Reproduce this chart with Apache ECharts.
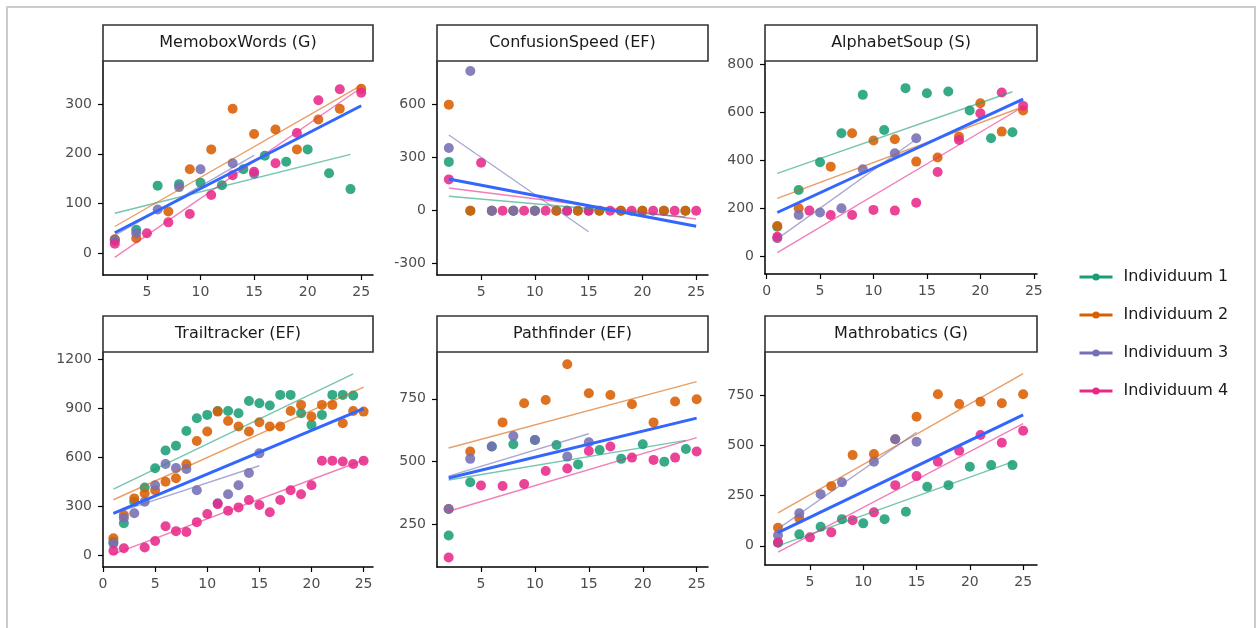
<!DOCTYPE html>
<html>
<head>
<meta charset="utf-8">
<style>html,body{margin:0;padding:0;background:#fff}#chart{width:1259px;height:628px}</style>
<script src="https://cdn.jsdelivr.net/npm/echarts@6/dist/echarts.min.js"></script>
</head>
<body>
<div id="chart"></div>
<script>
// facet data: [measurement, score] per individual
var individuals = ['Individuum 1', 'Individuum 2', 'Individuum 3', 'Individuum 4'];
var panelTitles = ['MemoboxWords (G)', 'ConfusionSpeed (EF)', 'AlphabetSoup (S)', 'Trailtracker (EF)', 'Pathfinder (EF)', 'Mathrobatics (G)'];

// MemoboxWords (G)
var memo1 = [[2,27],[4,47],[6,136],[8,139],[10,142],[12,137],[14,169],[16,196],[18,184],[20,209],[22,161],[24,129]];
var memo2 = [[2,28],[4,30],[7,84],[9,169],[11,209],[13,291],[15,240],[17,249],[19,209],[21,269],[23,291],[25,331]];
var memo3 = [[2,25],[4,40],[6,88],[8,133],[10,169],[13,181],[15,160]];
var memo4 = [[2,19],[5,40],[7,62],[9,79],[11,117],[13,157],[15,164],[17,181],[19,242],[21,308],[23,330],[25,323]];

// ConfusionSpeed (EF)
var conf1 = [[2,276],[4,0],[6,0],[8,0],[10,0],[12,0],[14,0],[16,0],[18,0],[20,0],[22,0],[24,0]];
var conf2 = [[2,600],[4,0],[6,0],[8,0],[10,0],[12,0],[14,0],[16,0],[18,0],[20,0],[22,0],[24,0]];
var conf3 = [[2,355],[4,790],[6,0],[8,0],[10,0],[13,0],[15,0]];
var conf4 = [[2,177],[5,271],[7,0],[9,0],[11,0],[13,0],[15,0],[17,0],[19,0],[21,0],[23,0],[25,0]];

// AlphabetSoup (S)
var alpha1 = [[1,122],[3,275],[5,390],[7,511],[9,671],[11,525],[13,699],[15,678],[17,685],[19,606],[21,490],[23,515]];
var alpha2 = [[1,125],[3,199],[6,372],[8,511],[10,481],[12,486],[14,393],[16,410],[18,497],[20,636],[22,518],[24,606]];
var alpha3 = [[1,74],[3,171],[5,181],[7,199],[9,361],[12,428],[14,490]];
var alpha4 = [[1,80],[4,189],[6,171],[8,171],[10,192],[12,189],[14,222],[16,350],[18,483],[20,594],[22,681],[24,625]];

// Trailtracker (EF)
var trail1 = [[1,85],[2,198],[3,330],[4,416],[5,534],[6,642],[7,672],[8,762],[9,839],[10,860],[11,884],[12,884],[13,870],[14,945],[15,931],[16,917],[17,982],[18,982],[19,870],[20,799],[21,860],[22,982],[23,982],[24,978]];
var trail2 = [[1,106],[2,249],[3,350],[4,380],[5,400],[6,452],[7,473],[8,558],[9,701],[10,758],[11,880],[12,823],[13,789],[14,758],[15,815],[16,789],[17,789],[18,884],[19,921],[20,850],[21,921],[22,921],[23,809],[24,884],[25,880]];
var trail3 = [[1,75],[2,230],[3,259],[4,330],[5,430],[6,560],[7,535],[8,530],[9,400],[11,320],[12,375],[13,430],[14,505],[15,625]];
var trail4 = [[1,30],[2,45],[4,50],[5,90],[6,180],[7,150],[8,145],[9,205],[10,255],[11,315],[12,275],[13,295],[14,340],[15,310],[16,265],[17,340],[18,400],[19,375],[20,430],[21,580],[22,580],[23,575],[24,560],[25,580]];

// Pathfinder (EF)
var path1 = [[2,206],[4,418],[6,560],[8,569],[10,586],[12,566],[14,489],[16,546],[18,511],[20,569],[22,500],[24,550]];
var path2 = [[2,312],[4,540],[7,656],[9,732],[11,745],[13,887],[15,772],[17,765],[19,728],[21,656],[23,739],[25,748]];
var path3 = [[2,312],[4,511],[6,560],[8,602],[10,586],[13,520],[15,577]];
var path4 = [[2,119],[5,405],[7,403],[9,411],[11,463],[13,473],[15,542],[17,560],[19,516],[21,507],[23,516],[25,540]];

// Mathrobatics (G)
var math1 = [[2,15],[4,57],[6,95],[8,133],[10,112],[12,133],[14,170],[16,295],[18,303],[20,395],[22,403],[24,403]];
var math2 = [[2,90],[4,137],[7,298],[9,453],[11,458],[13,532],[15,645],[17,757],[19,708],[21,720],[23,712],[25,757]];
var math3 = [[2,53],[4,162],[6,258],[8,317],[11,420],[13,532],[15,520]];
var math4 = [[2,17],[5,42],[7,67],[9,128],[11,167],[13,303],[15,348],[17,420],[19,475],[21,553],[23,515],[25,575]];

var xTicks = [[5,10,15,20,25],[5,10,15,20,25],[0,5,10,15,20,25],[0,5,10,15,20,25],[5,10,15,20,25],[5,10,15,20,25]];
var yTicks = [[0,100,200,300],[-300,0,300,600],[0,200,400,600,800],[0,300,600,900,1200],[250,500,750],[0,250,500,750]];
var xLimits = [[0.9,26.1],[0.9,26.1],[-0.15,25.3],[0,25.9],[0.92,26.05],[0.78,26.3]];
var yLimits = [[-44,387],[-364,847],[-75,812],[-69,1244],[81,936],[-96,968]];

var panels = [
  [memo1, memo2, memo3, memo4],
  [conf1, conf2, conf3, conf4],
  [alpha1, alpha2, alpha3, alpha4],
  [trail1, trail2, trail3, trail4],
  [path1, path2, path3, path4],
  [math1, math2, math3, math4]
];

var colors = ['#1B9E77', '#D95F02', '#7570B3', '#E7298A'];
// plot boxes [left, top, width, height]
var boxes = [
  [103, 61, 270, 214], [437, 61, 271, 214], [765, 61, 272, 213],
  [103, 352, 270, 215], [437, 352, 271, 215], [765, 352, 272, 213]
];
var FONT = 'DejaVu Sans, sans-serif';

// least squares line over the x range of the points
function lmLine(pts) {
  var n = pts.length, mx = 0, my = 0;
  pts.forEach(function (p) { mx += p[0]; my += p[1]; });
  mx /= n; my /= n;
  var sxx = 0, sxy = 0, lo = Infinity, hi = -Infinity;
  pts.forEach(function (p) {
    sxx += (p[0] - mx) * (p[0] - mx);
    sxy += (p[0] - mx) * (p[1] - my);
    lo = Math.min(lo, p[0]); hi = Math.max(hi, p[0]);
  });
  var b = sxy / sxx, a = my - b * mx;
  return [[lo, a + b * lo], [hi, a + b * hi]];
}

function plain(v) { return String(v); }

var grids = [], xAxes = [], yAxes = [], series = [], graphics = [];

boxes.forEach(function (bx, i) {
  grids.push({ left: bx[0], top: bx[1], width: bx[2], height: bx[3] });
  xAxes.push({
    type: 'value', gridIndex: i, min: xLimits[i][0], max: xLimits[i][1],
    axisLine: { show: true, onZero: false, lineStyle: { color: '#000', width: 1.5 } },
    axisTick: { show: true, customValues: xTicks[i], length: 5, lineStyle: { color: '#000', width: 1.2 } },
    axisLabel: { customValues: xTicks[i], formatter: plain, color: '#4d4d4d', fontSize: 14, margin: 10, fontFamily: FONT },
    splitLine: { show: false }
  });
  yAxes.push({
    type: 'value', gridIndex: i, min: yLimits[i][0], max: yLimits[i][1],
    axisLine: { show: true, onZero: false, lineStyle: { color: '#000', width: 1.5 } },
    axisTick: { show: true, customValues: yTicks[i], length: 5, lineStyle: { color: '#000', width: 1.2 } },
    axisLabel: { customValues: yTicks[i], formatter: plain, color: '#4d4d4d', fontSize: 14, margin: 11, fontFamily: FONT },
    splitLine: { show: false }
  });

  // strip on top of each panel
  var stripTop = bx[1] - 36;
  graphics.push({
    type: 'rect', shape: { x: bx[0], y: stripTop, width: bx[2], height: 36 },
    style: { fill: '#fff', stroke: '#333', lineWidth: 1.6 }, z: 10
  });
  graphics.push({
    type: 'text', x: bx[0] + bx[2] / 2, y: stripTop + 18, z: 11,
    style: { text: panelTitles[i], align: 'center', verticalAlign: 'middle', fontSize: 16, fontFamily: FONT, fill: '#1a1a1a' }
  });

  var all = [];
  panels[i].forEach(function (pts, k) {
    all = all.concat(pts);
    series.push({
      name: individuals[k], type: 'line', xAxisIndex: i, yAxisIndex: i,
      data: lmLine(pts), showSymbol: false, symbol: 'circle', z: 3, silent: true,
      itemStyle: { color: colors[k] },
      lineStyle: { color: colors[k], width: 1.4, opacity: 0.6 }
    });
  });
  panels[i].forEach(function (pts, k) {
    series.push({
      name: individuals[k], type: 'scatter', xAxisIndex: i, yAxisIndex: i,
      data: pts, symbolSize: 10, z: 2,
      itemStyle: { color: colors[k], opacity: 0.88 }
    });
  });
  series.push({
    name: 'lm all', type: 'line', xAxisIndex: i, yAxisIndex: i,
    data: lmLine(all), showSymbol: false, z: 4, silent: true,
    lineStyle: { color: '#3366FF', width: 3 }
  });
});

// light frame round the picture
graphics.push({
  type: 'polyline', shape: { points: [[7, 628], [7, 7], [1255, 7], [1255, 628]] },
  style: { fill: null, stroke: '#cccccc', lineWidth: 2 }
});

var chart = echarts.init(document.getElementById('chart'), null, { renderer: 'canvas' });
chart.setOption({
  animation: false,
  backgroundColor: '#fff',
  textStyle: { fontFamily: FONT },
  grid: grids,
  xAxis: xAxes,
  yAxis: yAxes,
  legend: {
    data: individuals, orient: 'vertical', left: 1073, top: 264,
    itemWidth: 33, itemHeight: 9, itemGap: 22,
    lineStyle: { width: 3, opacity: 1 }, itemStyle: { opacity: 1 },
    textStyle: { fontSize: 16, color: '#1a1a1a', fontFamily: FONT, padding: [0, 0, 0, 6] }
  },
  graphic: graphics,
  series: series
});
</script>
</body>
</html>
